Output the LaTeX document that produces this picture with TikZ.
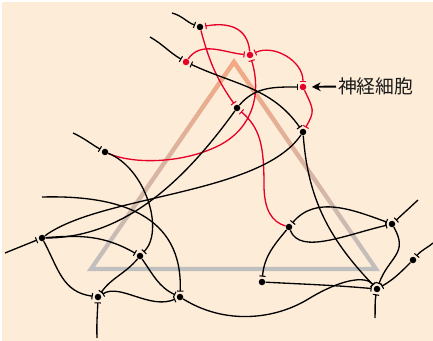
\documentclass[tikz,border=0pt]{standalone}
\usepackage{fontspec}
\newfontfamily\jpfont{Noto Sans CJK JP}
\usepackage{xcolor}
\usetikzlibrary{arrows.meta,fadings}
\definecolor{paper}{RGB}{253,236,216}
\definecolor{nred}{RGB}{230,0,40}
\definecolor{triorange}{RGB}{246,168,130}
\definecolor{trigray}{RGB}{192,192,192}
\tikzfading[name=trifade, top color=transparent!0, middle color=transparent!85, bottom color=transparent!100]
\tikzstyle{neuron} = [circle, fill=black, minimum size=3.7pt, inner sep=0pt]
\tikzstyle{rneuron} = [neuron, fill=nred]
\tikzstyle{axon} = [line width=0.75pt, black]
\tikzstyle{raxon} = [line width=0.75pt, nred]
\tikzstyle{syn} = [-{Bar[width=3.6pt,line width=0.6pt]}, shorten >=1pt]
\tikzstyle{bsyn} = [{Bar[width=3.6pt,line width=0.6pt]}-{Bar[width=3.6pt,line width=0.6pt]}, shorten >=1pt, shorten <=1pt]
\tikzstyle{tri} = [line width=2.4pt, line join=miter]

\begin{document}
\begin{tikzpicture}[x=0.02cm, y=0.02cm]

    \useasboundingbox (0,0) rectangle (433,-341);
    \fill [paper] (2,-2) rectangle (433,-341);

    \draw [tri, trigray] (234,-62) -- (91,-269) -- (376,-269) -- cycle;
    \draw [tri, triorange, path fading=trifade] (234,-62) -- (91,-269) -- (376,-269) -- cycle;

    \node (n1) [neuron] at (200,-27) {};
    \node (n2) [rneuron] at (186,-62) {};
    \node (n3) [rneuron] at (250,-55) {};
    \node (n4) [rneuron] at (303,-87) {};
    \node (n5) [neuron] at (237,-108) {};
    \node (n6) [neuron] at (303,-132) {};
    \node (n7) [neuron] at (105,-152) {};
    \node (n8) [neuron] at (42,-238) {};
    \node (n9) [neuron] at (140,-256) {};
    \node (n10) [neuron] at (98,-297) {};
    \node (n11) [neuron] at (180,-297) {};
    \node (n12) [neuron] at (289,-227) {};
    \node (n13) [neuron] at (392,-224) {};
    \node (n14) [neuron] at (413,-260) {};
    \node (n15) [neuron] at (262,-282) {};
    \node (n16) [neuron] at (377,-289) {};

    \coordinate (t1) at (172,-13);
    \coordinate (t2) at (150,-37);
    \coordinate (t3) at (73,-133);
    \coordinate (t4) at (5,-253);
    \coordinate (t5) at (42,-197);
    \coordinate (t6) at (97,-338);
    \coordinate (t7) at (418,-200);
    \coordinate (t8) at (433,-243);
    \coordinate (t9) at (375,-318);

    \draw [raxon,syn] (n3) to[out=95,in=10,looseness=1.2] (n1);
    \draw [raxon,syn] (n1) to[out=-75,in=125] (n5);
    \draw [raxon,syn] (n2) to[out=55,in=175] (n3);
    \draw [raxon,bsyn] (n3) to[out=25,in=90] (n4);
    \draw [raxon,syn] (n7) .. controls (135,-165) and (185,-163) .. (220,-145) .. controls (252,-128) and (262,-95) .. (n3);
    \draw [raxon,syn] (n4) to[out=-65,in=60,looseness=1.4] (n6);
    \draw [raxon,syn] (n12) .. controls (272,-222) and (264,-210) .. (264,-185) .. controls (264,-145) and (260,-128) .. (n5);

    \draw [axon,syn] (t1) to[out=-15,in=160] (n1);
    \draw [axon,syn] (t2) to[out=-30,in=150] (n2);
    \draw [axon,bsyn] (n6) to[out=125,in=-25] (n2);
    \draw [axon,syn] (n5) to[out=50,in=180] (n4);
    \draw [axon] (n5) .. controls (185,-180) and (125,-238) .. (n8);
    \draw [axon] (n6) .. controls (260,-195) and (100,-195) .. (n8);
    \draw [axon,syn] (t4) -- (n8);
    \draw [axon,syn] (n8) to[out=5,in=150] (n9);
    \draw [axon,syn] (n8) to[out=-62,in=172,looseness=1.1] (n10);
    \draw [axon,syn] (t5) .. controls (120,-195) and (183,-215) .. (n11);
    \draw [axon,syn] (t3) to[out=-25,in=150] (n7);
    \draw [axon,syn] (n7) .. controls (145,-168) and (165,-230) .. (n9);
    \draw [axon,syn] (n9) to[out=-130,in=55] (n10);
    \draw [axon,syn] (n9) to[out=-55,in=155] (n11);
    \draw [axon,bsyn] (n10) .. controls (120,-283) and (150,-310) .. (n11);
    \draw [axon,syn] (t6) to[out=92,in=-92] (n10);
    \draw [axon,syn] (n11) .. controls (225,-325) and (275,-320) .. (310,-298) .. controls (340,-280) and (365,-275) .. (n16);
    \draw [axon,syn] (n6) .. controls (308,-200) and (330,-240) .. (n16);
    \draw [axon,bsyn] (n12) to[out=50,in=160] (n13);
    \draw [axon,syn] (n12) .. controls (300,-255) and (345,-235) .. (n13);
    \draw [axon,syn] (n12) to[out=-130,in=85] (n15);
    \draw [axon,syn] (n15) to[out=-3,in=175] (n16);
    \draw [axon,syn] (n13) to[out=-60,in=70,looseness=1.3] (n16);
    \draw [axon,syn] (n14) to[out=-135,in=30] (n16);
    \draw [axon,syn] (t7) -- (n13);
    \draw [axon,syn] (t8) to[out=-140,in=50] (n14);
    \draw [axon,syn] (t9) to[out=88,in=-100] (n16);

    \node (lbl) [anchor=west, inner sep=1pt, text=black!90, font=\jpfont\fontsize{10.7}{12}\selectfont] at (336,-86) {神経細胞};
    \draw [line width=1.1pt, -{Stealth[length=5pt,width=5pt]}, shorten >=3pt] (lbl) -- (n4);

\end{tikzpicture}
\end{document}
